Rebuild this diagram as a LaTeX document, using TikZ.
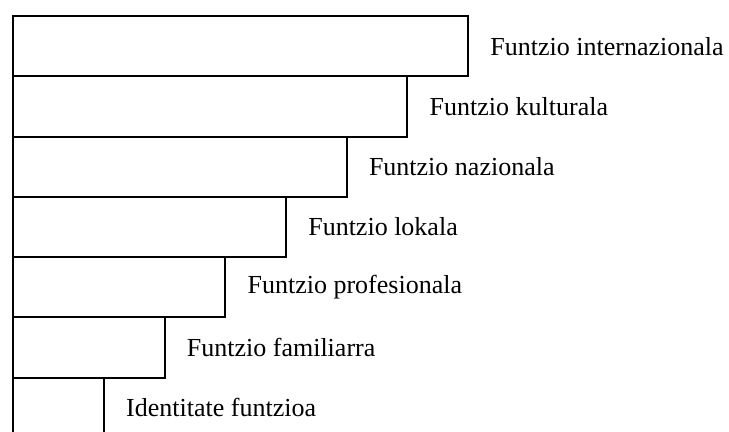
\documentclass[tikz,border=0pt]{standalone}
\usepackage{fontspec}
\setmainfont{Liberation Serif}
\usetikzlibrary{calc}
\usetikzlibrary{positioning}

\tikzset{
    funbar/.style={draw, line width=1pt, inner sep=0pt, anchor=north west,
        minimum height=30.15pt},
    funtext/.style={inner sep=0pt, anchor=west, font=\fontsize{13}{15}\selectfont}
}

\begin{document}
\begin{tikzpicture}[x=0.5pt, y=-0.5pt]
    \clip (0,0) rectangle (729,432);

    \coordinate (O) at (12,15);

    \foreach \name/\txt [count=\i from 0] in {
        intl/Funtzio internazionala,
        kult/Funtzio kulturala,
        naz/Funtzio nazionala,
        lok/Funtzio lokala,
        prof/Funtzio profesionala,
        fam/Funtzio familiarra,
        ident/Identitate funtzioa} {
        \pgfmathsetmacro{\barw}{(455 - 60.7*\i)*0.5}
        \node[funbar, minimum width=\barw pt] (\name) at ($(O) + (0,60.3*\i)$) {};
        \node[funtext, right=10.5pt of \name.east] (\name-t) {\txt};
    }
\end{tikzpicture}
\end{document}
